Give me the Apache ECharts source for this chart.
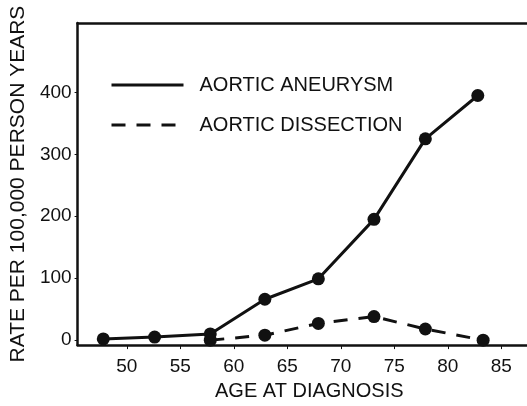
<!DOCTYPE html>
<html><head><meta charset="utf-8">
<script src="https://cdn.jsdelivr.net/npm/echarts@6/dist/echarts.min.js"></script>
<style>html,body{margin:0;padding:0;background:#fff}#c{width:527px;height:406px}</style>
</head><body><div id="c"></div>
<script>
const aneurysmAge = [47.8, 52.6, 57.8, 62.9, 67.9, 73.1, 77.9, 82.8];
const aneurysmRate = [2, 5, 10, 66, 99, 195, 325, 395];
const dissectionAge = [57.8, 62.9, 67.9, 73.1, 77.9, 83.3];
const dissectionRate = [0, 8, 27, 38, 18, 0];
const xTicks = [50, 55, 60, 65, 70, 75, 80, 85];
const yTicks = [0, 100, 200, 300, 400];

const font = '"Liberation Sans", Arial, Helvetica, sans-serif';
const ink = '#111';
const chart = echarts.init(document.getElementById('c'));
chart.setOption({
  animation: false,
  backgroundColor: '#fff',
  grid: { left: 75, right: 0, top: 23, bottom: 58 },
  legend: {
    orient: 'vertical', left: 110, top: 75, padding: 0,
    itemWidth: 72, itemHeight: 20, itemGap: 20,
    itemStyle: { opacity: 0 },
    lineStyle: { width: 3 },
    textStyle: { fontFamily: font, fontSize: 20, color: ink, padding: [0, 0, 0, 11] },
    data: ['AORTIC ANEURYSM', 'AORTIC DISSECTION']
  },
  xAxis: [{
    type: 'value', min: 45.4, max: 87.4,
    name: 'AGE AT DIAGNOSIS', nameLocation: 'middle', nameGap: 30,
    nameTextStyle: { fontFamily: font, fontSize: 20, color: ink, padding: [0, 0, 0, 14] },
    axisLine: { show: true, onZero: false, lineStyle: { color: ink, width: 2.5 } },
    axisTick: { show: true, customValues: xTicks, length: 4, lineStyle: { color: ink, width: 1 } },
    axisLabel: { customValues: xTicks, fontFamily: font, fontSize: 19, color: ink, margin: 12 },
    splitLine: { show: false }
  }, {
    type: 'value', position: 'top', min: 45.4, max: 87.4,
    axisLine: { show: true, onZero: false, lineStyle: { color: ink, width: 2.5 } },
    axisTick: { show: false }, axisLabel: { show: false }, splitLine: { show: false }
  }],
  yAxis: {
    type: 'value', min: -8, max: 512,
    name: 'RATE PER 100,000 PERSON YEARS', nameLocation: 'middle', nameGap: 46, nameRotate: 90,
    nameTextStyle: { fontFamily: font, fontSize: 21, color: ink },
    axisLine: { show: true, onZero: false, lineStyle: { color: ink, width: 2.5 } },
    axisTick: { show: true, customValues: yTicks, length: 3, lineStyle: { color: ink, width: 1 } },
    axisLabel: { customValues: yTicks, fontFamily: font, fontSize: 19, color: ink, margin: 6 },
    splitLine: { show: false }
  },
  series: [{
    name: 'AORTIC ANEURYSM', type: 'line',
    data: aneurysmAge.map((a, i) => [a, aneurysmRate[i]]),
    symbol: 'circle', symbolSize: 13,
    lineStyle: { color: ink, width: 3 }, itemStyle: { color: ink }
  }, {
    name: 'AORTIC DISSECTION', type: 'line',
    data: dissectionAge.map((a, i) => [a, dissectionRate[i]]),
    symbol: 'circle', symbolSize: 13,
    lineStyle: { color: ink, width: 3, type: [14, 11] }, itemStyle: { color: ink }
  }]
});
</script></body></html>
